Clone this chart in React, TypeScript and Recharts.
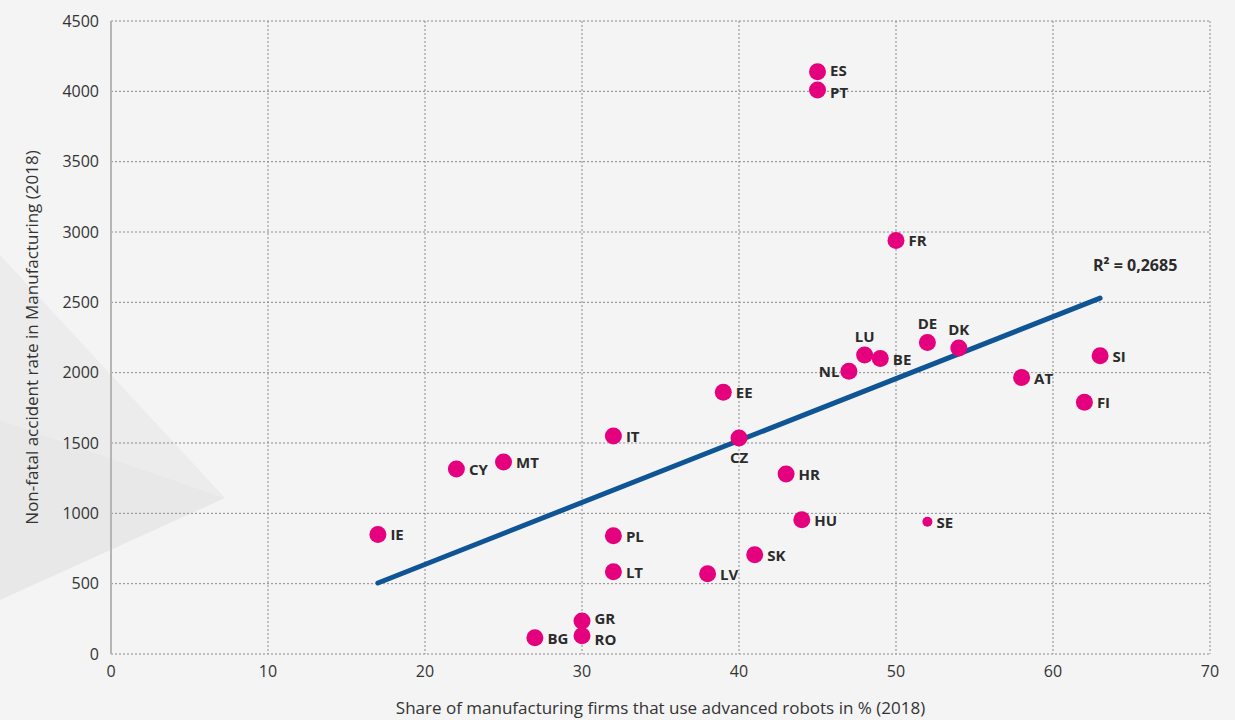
import {
  ScatterChart,
  Scatter,
  XAxis,
  YAxis,
  CartesianGrid,
  ReferenceLine,
  ReferenceDot,
  Label,
} from "recharts";

// country codes, robot share (%) and accident rate
const countries = [
  "ES", "PT", "FR", "LU", "BE", "NL", "DE", "DK", "SI", "AT", "FI", "EE", "IT", "CZ",
  "CY", "MT", "HR", "HU", "SE", "IE", "PL", "SK", "LT", "LV", "GR", "RO", "BG",
];
const robotShare = [
  45, 45, 50, 48, 49, 47, 52, 54, 63, 58, 62, 39, 32, 40,
  22, 25, 43, 44, 52, 17, 32, 41, 32, 38, 30, 30, 27,
];
const accidentRate = [
  4140, 4010, 2940, 2125, 2100, 2010, 2215, 2175, 2120, 1965, 1790, 1860, 1550, 1535,
  1315, 1365, 1280, 955, 940, 850, 840, 705, 585, 570, 235, 130, 115,
];

const xTicks = [0, 10, 20, 30, 40, 50, 60, 70];
const yTicks = [0, 500, 1000, 1500, 2000, 2500, 3000, 3500, 4000, 4500];

// linear trend fitted by the source (end points of the drawn line)
const trendStart = { x: 17, y: 505 };
const trendEnd = { x: 63, y: 2530 };
const rSquaredText = "R² = 0,2685";

const points = countries.map((c, i) => ({
  code: c,
  x: robotShare[i],
  y: accidentRate[i],
}));

// where each label sits relative to its dot
const LABEL_POS: Record<string, string> = {
  NL: "left",
  LU: "above",
  DE: "above",
  DK: "above",
  CZ: "below",
};
// small vertical nudges so crowded labels don't collide
const LABEL_DY: Record<string, number> = { ES: -2, PT: 2, GR: -3, RO: 3 };

const FONT = "'Open Sans', sans-serif";
const TEXT = "#2b2b2b";

function DotWithLabel(props: any) {
  const { cx, cy, payload } = props;
  const small = payload.code === "SE";
  const r = small ? 5 : 8.5;
  const pos = LABEL_POS[payload.code] || "right";
  let tx = cx + r + 4;
  let ty = cy + 6 + (LABEL_DY[payload.code] || 0);
  let anchor: "start" | "middle" | "end" = "start";
  if (pos === "left") {
    tx = cx - r - 1;
    anchor = "end";
  } else if (pos === "above") {
    tx = cx;
    ty = cy - 13;
    anchor = "middle";
  } else if (pos === "below") {
    tx = cx;
    ty = cy + 25;
    anchor = "middle";
  }
  return (
    <g>
      <circle cx={cx} cy={cy} r={r} fill="#e5007d" />
      <text
        x={tx}
        y={ty}
        textAnchor={anchor}
        fontFamily={FONT}
        fontSize={15}
        fontWeight={700}
        fill={TEXT}
      >
        {payload.code}
      </text>
    </g>
  );
}

function RSquaredLabel(props: any) {
  const { viewBox } = props;
  const x = viewBox.x + viewBox.width / 2 + 35;
  const y = viewBox.y + viewBox.height / 2 - 27;
  return (
    <text
      x={x}
      y={y}
      textAnchor="middle"
      fontFamily={FONT}
      fontSize={16}
      fontWeight={700}
      fill={TEXT}
    >
      {rSquaredText}
    </text>
  );
}

export default function App() {
  return (
    <div
      style={{
        position: "absolute",
        left: 0,
        top: 0,
        width: 1235,
        height: 720,
        background: "#f4f4f4",
        overflow: "hidden",
      }}
    >
      <svg
        width={1235}
        height={720}
        style={{ position: "absolute", left: 0, top: 0 }}
      >
        <polygon points="0,255 225,498 0,420" fill="#ececec" />
        <polygon points="0,420 225,498 0,600" fill="#e8e8e8" />
      </svg>
      <ScatterChart
        width={1235}
        height={720}
        margin={{ top: 21, right: 25, bottom: 36, left: 41 }}
        style={{ position: "absolute", left: 0, top: 0 }}
      >
        <CartesianGrid stroke="#8a8a8a" strokeDasharray="2 2" />
        <XAxis
          type="number"
          dataKey="x"
          domain={[0, 70]}
          ticks={xTicks}
          interval={0}
          height={30}
          axisLine={false}
          tickLine={false}
          tick={{ fontSize: 16, fill: "#333", fontFamily: FONT }}
          tickMargin={6}
        >
          <Label
            value="Share of manufacturing firms that use advanced robots in % (2018)"
            position="bottom"
            offset={18}
            style={{ fontSize: 17, fill: "#333", fontFamily: FONT }}
          />
        </XAxis>
        <YAxis
          type="number"
          dataKey="y"
          domain={[0, 4500]}
          ticks={yTicks}
          interval={0}
          width={70}
          axisLine={{ stroke: "#b5b5b5", strokeWidth: 2 }}
          tickLine={false}
          tick={{ fontSize: 16, fill: "#333", fontFamily: FONT }}
          tickMargin={6}
        >
          <Label
            value="Non-fatal accident rate in Manufacturing (2018)"
            angle={-90}
            position="insideLeft"
            offset={-9}
            style={{
              fontSize: 17,
              fill: "#333",
              fontFamily: FONT,
              textAnchor: "middle",
            }}
          />
        </YAxis>
        <ReferenceLine
          segment={[trendStart, trendEnd]}
          stroke="#0f5596"
          strokeWidth={5}
          strokeLinecap="round"
        />
        <ReferenceDot
          x={trendEnd.x}
          y={trendEnd.y}
          r={1}
          fill="none"
          stroke="none"
          label={<RSquaredLabel />}
        />
        <Scatter
          data={points}
          shape={DotWithLabel}
          isAnimationActive={false}
        />
      </ScatterChart>
    </div>
  );
}
